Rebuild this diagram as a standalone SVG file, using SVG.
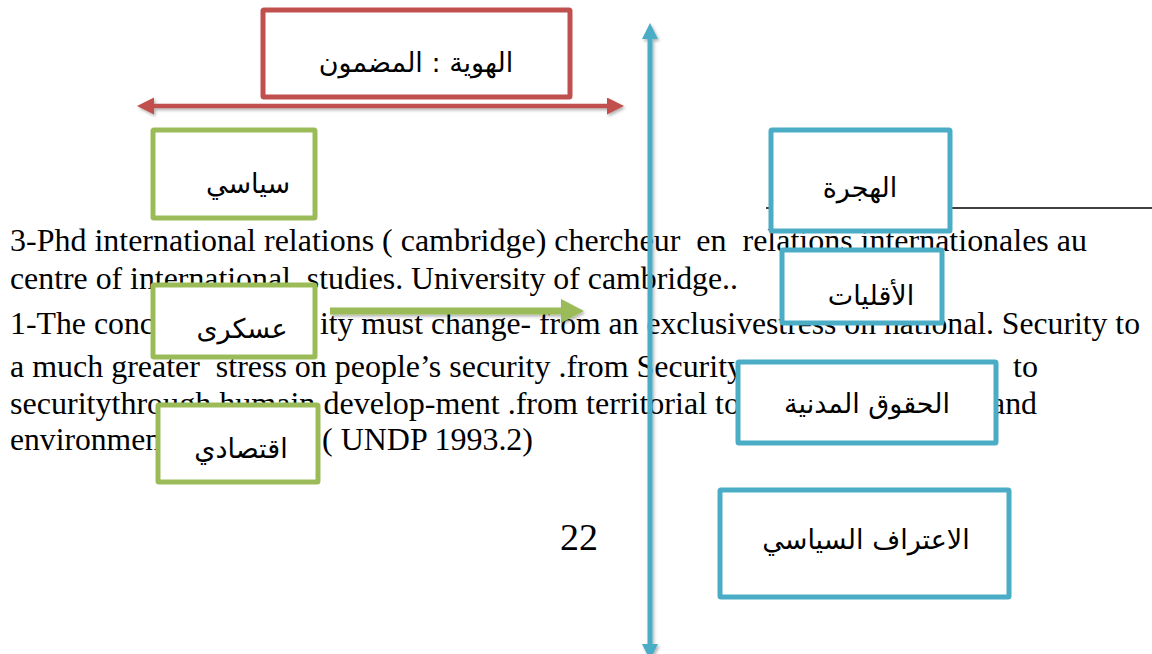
<svg xmlns="http://www.w3.org/2000/svg" width="1152" height="654" viewBox="0 0 1152 654">
<style>
.en{font-family:"Liberation Serif","Times New Roman",serif;font-size:31px;fill:#000;white-space:pre}
.ar{font-family:"DejaVu Sans","Noto Sans",sans-serif;font-size:27px;fill:#000;text-anchor:middle}
.red{fill:#fff;stroke:#C0504D;stroke-width:5}
.grn{fill:#fff;stroke:#9BBB59;stroke-width:5}
.blu{fill:#fff;stroke:#4BACC6;stroke-width:5}
</style>
<defs>
<filter id="sh" filterUnits="userSpaceOnUse" x="0" y="0" width="1152" height="680">
<feDropShadow dx="1.5" dy="2" stdDeviation="1.5" flood-color="#000" flood-opacity="0.3"/>
</filter>
<marker id="mr" markerUnits="userSpaceOnUse" markerWidth="18" markerHeight="18" refX="2" refY="8.5" orient="auto-start-reverse"><path d="M0,0 L17,8.5 L0,17 z" fill="#C0504D"/></marker>
<marker id="mb" markerUnits="userSpaceOnUse" markerWidth="18" markerHeight="18" refX="2" refY="8" orient="auto-start-reverse"><path d="M0,0 L16,8 L0,16 z" fill="#4BACC6"/></marker>
<marker id="mg" markerUnits="userSpaceOnUse" markerWidth="26" markerHeight="26" refX="2" refY="12" orient="auto"><path d="M0,0 L23,12 L0,24 z" fill="#9BBB59"/></marker>
</defs>
<rect width="1152" height="654" fill="#fff"/>

<g id="body-text">
<text class="en" x="10" y="251" textLength="1077" lengthAdjust="spacingAndGlyphs">3-Phd international relations ( cambridge) chercheur  en  relations internationales au</text>
<text class="en" x="10" y="289" textLength="728" lengthAdjust="spacingAndGlyphs">centre of international  studies. University of cambridge..</text>
<text class="en" x="10" y="334" textLength="144" lengthAdjust="spacingAndGlyphs">1-The conc</text>
<text class="en" x="320" y="334" textLength="820" lengthAdjust="spacingAndGlyphs">ity must change- from an exclusivestress on national. Security to</text>
<text class="en" x="10" y="377" textLength="733" lengthAdjust="spacingAndGlyphs">a much greater  stress on people’s security .from Security</text>
<text class="en" x="1013" y="377" textLength="25" lengthAdjust="spacingAndGlyphs">to</text>
<text class="en" x="10" y="414" textLength="730" lengthAdjust="spacingAndGlyphs">securitythrough humain develop-ment .from territorial to</text>
<text class="en" x="991" y="414" textLength="46" lengthAdjust="spacingAndGlyphs">and</text>
<text class="en" x="10" y="450" textLength="151" lengthAdjust="spacingAndGlyphs">environmen</text>
<text class="en" x="322" y="450" textLength="211" lengthAdjust="spacingAndGlyphs">( UNDP 1993.2)</text>
<text class="en" x="560" y="550" style="font-size:38px">22</text>
</g>

<line x1="766" y1="208" x2="1152" y2="208" stroke="#000" stroke-width="1.5"/>

<g id="connectors" filter="url(#sh)">
<line x1="152" y1="106" x2="609" y2="106" stroke="#C0504D" stroke-width="4.5" marker-start="url(#mr)" marker-end="url(#mr)"/>
<line x1="650" y1="37" x2="650" y2="646" stroke="#4BACC6" stroke-width="5" marker-start="url(#mb)" marker-end="url(#mb)"/>
<line x1="330" y1="311" x2="563" y2="311" stroke="#9BBB59" stroke-width="7" marker-end="url(#mg)"/>
</g>

<g id="identity">
<rect class="red" x="263" y="10" width="307" height="87" rx="1"/>
<text class="ar" x="416" y="72">الهوية : المضمون</text>
</g>
<g id="political">
<rect class="grn" x="153" y="130" width="162" height="88" rx="1"/>
<text class="ar" x="248" y="193">سياسي</text>
</g>
<g id="military">
<rect class="grn" x="153" y="285" width="162" height="72" rx="1"/>
<text class="ar" x="242" y="338">عسكرى</text>
</g>
<g id="economic">
<rect class="grn" x="158" y="405" width="160" height="77" rx="1"/>
<text class="ar" x="241" y="458">اقتصادي</text>
</g>
<g id="migration">
<rect class="blu" x="771" y="130" width="179" height="101" rx="1"/>
<text class="ar" x="860" y="197">الهجرة</text>
</g>
<g id="minorities">
<rect class="blu" x="782" y="250" width="160" height="73" rx="1"/>
<text class="ar" x="871" y="305">الأقليات</text>
</g>
<g id="civil-rights">
<rect class="blu" x="738" y="362" width="258" height="81" rx="1"/>
<text class="ar" x="867" y="413">الحقوق المدنية</text>
</g>
<g id="recognition">
<rect class="blu" x="720" y="490" width="289" height="107" rx="1"/>
<text class="ar" x="866" y="549">الاعتراف السياسي</text>
</g>
</svg>
